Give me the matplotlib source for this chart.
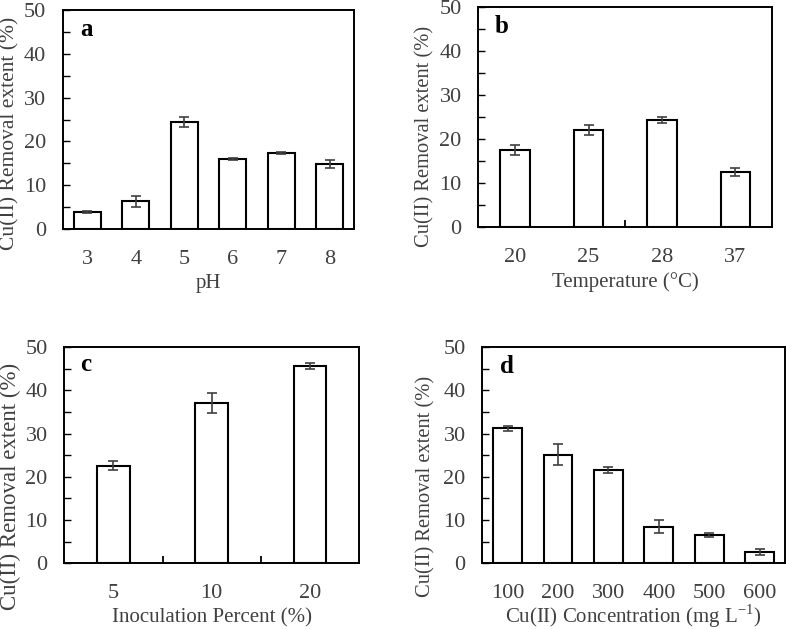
import matplotlib
matplotlib.use('Agg')
import matplotlib.pyplot as plt
from matplotlib.ticker import MultipleLocator, FixedLocator, NullLocator
import numpy as np

plt.rcParams['font.family'] = ['Liberation Serif', 'DejaVu Serif']
plt.rcParams['mathtext.fontset'] = 'custom'
plt.rcParams['mathtext.rm'] = 'Liberation Serif'

TEXT = '#404040'
FS = 16

# panel a: pH
ph_labels = ['3', '4', '5', '6', '7', '8']
ph_values = [3.9, 6.3, 24.4, 16.0, 17.4, 14.9]
ph_errors = [0.3, 1.3, 1.1, 0.3, 0.25, 0.9]

# panel b: temperature
temp_labels = ['20', '25', '28', '37']
temp_values = [17.5, 22.1, 24.4, 12.5]
temp_errors = [1.1, 1.05, 0.7, 0.95]

# panel c: inoculation percent
inoc_labels = ['5', '10', '20']
inoc_values = [22.6, 37.2, 45.6]
inoc_errors = [1.05, 2.3, 0.7]

# panel d: Cu(II) concentration
conc_labels = ['100', '200', '300', '400', '500', '600']
conc_values = [31.2, 25.1, 21.6, 8.5, 6.6, 2.6]
conc_errors = [0.55, 2.4, 0.75, 1.45, 0.45, 0.7]


def bar_panel(ax, labels, values, errors, width, xlabel, letter, letter_pos,
              xlab_y, ylab_pos, ylab_fs, sep_ticks=()):
    """
    Draws one bar panel with error bars in the style of the reference figure.
    """
    x = np.arange(len(labels))
    ax.bar(x, values, width=width, color='white', edgecolor='black', linewidth=1.5, zorder=2)
    ax.errorbar(x, values, yerr=errors, fmt='none', ecolor=TEXT, elinewidth=1.2,
                capsize=3.6, capthick=1.2, zorder=3)

    ax.set_xlim(-0.5, len(labels) - 0.5)
    ax.set_ylim(0, 50)

    # category labels without tick marks, separator ticks drawn as minor ticks
    ax.xaxis.set_major_locator(FixedLocator(x))
    ax.set_xticklabels(labels)
    ax.tick_params(axis='x', which='major', length=0, pad=15, labelsize=FS, labelcolor=TEXT)
    if sep_ticks:
        ax.xaxis.set_minor_locator(FixedLocator(list(sep_ticks)))
        ax.tick_params(axis='x', which='minor', direction='in', length=5, width=1.3, color='black')
    else:
        ax.xaxis.set_minor_locator(NullLocator())

    ax.yaxis.set_major_locator(MultipleLocator(10))
    ax.yaxis.set_minor_locator(MultipleLocator(5))
    ax.tick_params(axis='y', which='both', direction='in', length=5, width=1.0, color='black')
    ax.tick_params(axis='y', which='major', pad=12, labelsize=FS, labelcolor=TEXT)

    for s in ax.spines.values():
        s.set_linewidth(1.4)

    ax.set_xlabel(xlabel, fontsize=15, color=TEXT, va='center')
    ax.xaxis.set_label_coords(0.5, xlab_y)
    ax.set_ylabel('Cu(II) Removal extent (%)', fontsize=ylab_fs, color=TEXT, va='center')
    ax.yaxis.set_label_coords(ylab_pos[0], ylab_pos[1])
    ax.text(letter_pos[0], letter_pos[1], letter, transform=ax.transAxes, fontsize=18,
            fontweight='bold', ha='center', va='center', color='black')


fig = plt.figure(figsize=(7.86, 6.29), dpi=100)

ax_a = fig.add_axes([0.0802, 0.6359, 0.3702, 0.3482])
ax_b = fig.add_axes([0.6085, 0.6391, 0.3740, 0.3493])
ax_c = fig.add_axes([0.0818, 0.1045, 0.3749, 0.3434])
ax_d = fig.add_axes([0.6136, 0.1045, 0.3851, 0.3434])

bar_panel(ax_a, ph_labels, ph_values, ph_errors, 0.565, 'pH', 'a', (0.079, 0.913),
          -0.247, (-0.182, 0.435), 15.5)
bar_panel(ax_b, temp_labels, temp_values, temp_errors, 0.40, 'Temperature (\u00b0C)', 'b',
          (0.078, 0.912), -0.249, (-0.182, 0.412), 14.8, sep_ticks=(1.5,))
bar_panel(ax_c, inoc_labels, inoc_values, inoc_errors, 0.333, 'Inoculation Percent (%)', 'c',
          (0.074, 0.918), -0.253, (-0.184, 0.355), 16.5, sep_ticks=(0.5, 1.5))
bar_panel(ax_d, conc_labels, conc_values, conc_errors, 0.57,
          'Cu(II) Concentration (mg L$^{\\mathregular{-1}}$)', 'd', (0.083, 0.913),
          -0.245, (-0.185, 0.358), 14.8)

fig.savefig('out.png', dpi=100)
